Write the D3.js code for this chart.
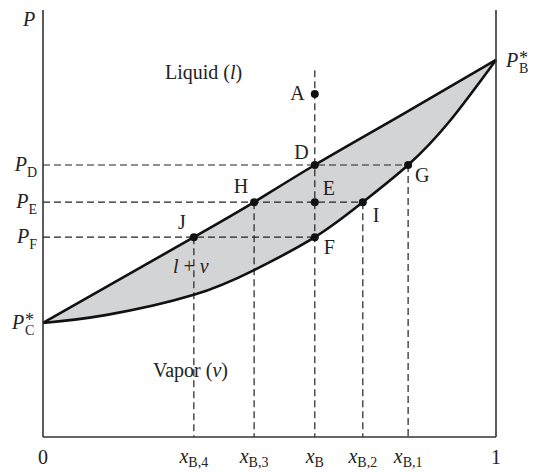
<!DOCTYPE html>
<html>
<head>
<meta charset="utf-8">
<script src="https://cdn.jsdelivr.net/npm/d3@7"></script>
<style>
  html, body { margin: 0; padding: 0; background: #fff; }
  svg { display: block; }
  text { font-family: "Liberation Serif", "Times New Roman", serif; fill: #222; }
</style>
</head>
<body>
<script>
// ---------------- data ----------------
// Liquid (bubble-point) curve: composition x_B vs pressure P
const liquidX = [0, 0.333, 0.466, 0.600, 0.788, 1];
const liquidP = [26.7, 46.8, 55.0, 63.7, 75.2, 88.3];
// Vapor (dew-point) curve
const vaporX = [0, 0.141, 0.333, 0.466, 0.600, 0.706, 0.806, 0.898, 1];
const vaporP = [26.7, 28.6, 33.3, 39.1, 46.8, 55.0, 63.7, 74.0, 88.3];
// Labelled points
const pointNames = ["A", "D", "E", "F", "G", "H", "I", "J"];
const pointX = [0.600, 0.600, 0.600, 0.600, 0.806, 0.466, 0.706, 0.333];
const pointP = [80.3, 63.7, 55.0, 46.8, 63.7, 55.0, 55.0, 46.8];
// Pressure levels (horizontal dashed lines) and their end compositions
const levelNames = ["D", "E", "F"];
const levelP = [63.7, 55.0, 46.8];
const levelEndX = [0.806, 0.706, 0.600];
// Compositions (vertical dashed lines) and their top pressure
const compSubs = ["B,4", "B,3", "B", "B,2", "B,1"];
const compX = [0.333, 0.466, 0.600, 0.706, 0.806];
const compTopP = [46.8, 55.0, 85.9, 55.0, 63.7];
// Axis tick labels
const xTickLabels = ["0", "1"];
const xTickValues = [0, 1];
// Pure component vapor pressures
const pureNames = ["C", "B"];
const pureP = [26.7, 88.3];
// Region labels
const regionTexts = ["Liquid", "Vapor"];

// ---------------- layout ----------------
const W = 533, H = 472;
const x = d3.scaleLinear().domain([0, 1]).range([43, 496]);
const y = d3.scaleLinear().domain([0, 100]).range([437, 10]);

const svg = d3.select("body").append("svg").attr("width", W).attr("height", H);

const liquid = liquidX.map((v, i) => [v, liquidP[i]]);
const vapor = vaporX.map((v, i) => [v, vaporP[i]]);

const line = d3.line().x(d => x(d[0])).y(d => y(d[1])).curve(d3.curveNatural);

// fill between curves
const fillD = line(liquid) + line(vapor.slice().reverse()).replace(/^M/, "L") + "Z";
svg.append("path").attr("d", fillD).attr("fill", "#d3d4d6").attr("stroke", "none");

// dashed lines
const dash = "7,4";
const gDash = svg.append("g").attr("stroke", "#222").attr("stroke-width", 1.2)
  .attr("stroke-dasharray", dash).attr("fill", "none");
levelP.forEach((p, i) => {
  gDash.append("line")
    .attr("x1", x(0)).attr("x2", x(levelEndX[i]))
    .attr("y1", y(p)).attr("y2", y(p));
});
compX.forEach((c, i) => {
  gDash.append("line")
    .attr("x1", x(c)).attr("x2", x(c))
    .attr("y1", y(compTopP[i])).attr("y2", y(0));
});

// curves
svg.append("path").attr("d", line(liquid)).attr("fill", "none")
  .attr("stroke", "#111").attr("stroke-width", 2.6).attr("stroke-linejoin", "round");
svg.append("path").attr("d", line(vapor)).attr("fill", "none")
  .attr("stroke", "#111").attr("stroke-width", 2.6).attr("stroke-linejoin", "round");

// axes frame (left, bottom, right)
const axisG = svg.append("g").attr("stroke", "#333").attr("stroke-width", 1.6).attr("fill", "none");
axisG.append("line").attr("x1", x(0)).attr("x2", x(0)).attr("y1", y(100)).attr("y2", y(0));
axisG.append("line").attr("x1", x(0)).attr("x2", x(1)).attr("y1", y(0)).attr("y2", y(0));
axisG.append("line").attr("x1", x(1)).attr("x2", x(1)).attr("y1", y(100)).attr("y2", y(0));

// points
svg.append("g").selectAll("circle").data(pointNames).join("circle")
  .attr("cx", (d, i) => x(pointX[i])).attr("cy", (d, i) => y(pointP[i]))
  .attr("r", 4).attr("fill", "#111");

// point labels
const labelOffsets = {
  A: [-10, 6, "end"], D: [-6, -6, "end"], E: [8, -7, "start"], F: [9, 17, "start"],
  G: [7, 17, "start"], H: [-6, -9, "end"], I: [10, 20, "start"], J: [-8, -8, "end"]
};
svg.append("g").selectAll("text").data(pointNames).join("text")
  .attr("x", (d, i) => x(pointX[i]) + labelOffsets[d][0])
  .attr("y", (d, i) => y(pointP[i]) + labelOffsets[d][1])
  .attr("text-anchor", d => labelOffsets[d][2])
  .attr("font-size", 20)
  .text(d => d);

// axis title P
svg.append("text").attr("x", 23).attr("y", 26).attr("font-size", 20)
  .attr("font-style", "italic").text("P");

// level labels on y axis
levelNames.forEach((n, i) => {
  const t = svg.append("text").attr("x", 37).attr("y", y(levelP[i]) + 6)
    .attr("text-anchor", "end").attr("font-size", 20);
  t.append("tspan").attr("font-style", "italic").text("P");
  t.append("tspan").attr("font-size", 14).attr("dy", 6).text(n);
});

// pure component labels (P with stacked * and subscript, one text element)
function pureLabel(px, baseline, sub) {
  const t = svg.append("text").attr("x", px).attr("y", baseline).attr("font-size", 20);
  t.append("tspan").attr("font-style", "italic").text("P");
  t.append("tspan").attr("x", px + 13).attr("y", baseline - 3).attr("font-size", 18).text("*");
  t.append("tspan").attr("x", px + 13).attr("y", baseline + 6).attr("font-size", 14).text(sub);
}
pureLabel(12, y(pureP[0]) + 6, pureNames[0]);
pureLabel(506, y(pureP[1]) + 7, pureNames[1]);

// x tick labels
xTickLabels.forEach((l, i) => {
  svg.append("text").attr("x", x(xTickValues[i])).attr("y", 464)
    .attr("text-anchor", "middle").attr("font-size", 20).text(l);
});
compSubs.forEach((s, i) => {
  const t = svg.append("text").attr("x", x(compX[i])).attr("y", 463)
    .attr("text-anchor", "middle").attr("font-size", 20);
  t.append("tspan").attr("font-style", "italic").text("x");
  t.append("tspan").attr("font-size", 14).attr("dy", 4).text(s);
});

// region labels
const liq = svg.append("text").attr("x", 165).attr("y", 79).attr("font-size", 20);
liq.append("tspan").text(regionTexts[0] + " (");
liq.append("tspan").attr("font-style", "italic").text("l");
liq.append("tspan").text(")");

const vap = svg.append("text").attr("x", 153).attr("y", 377).attr("font-size", 20);
vap.append("tspan").text(regionTexts[1] + " (");
vap.append("tspan").attr("font-style", "italic").text("v");
vap.append("tspan").text(")");

const mix = svg.append("text").attr("x", 173).attr("y", 273).attr("font-size", 20);
mix.append("tspan").attr("font-style", "italic").text("l");
mix.append("tspan").text(" + ");
mix.append("tspan").attr("font-style", "italic").text("v");
</script>
</body>
</html>
